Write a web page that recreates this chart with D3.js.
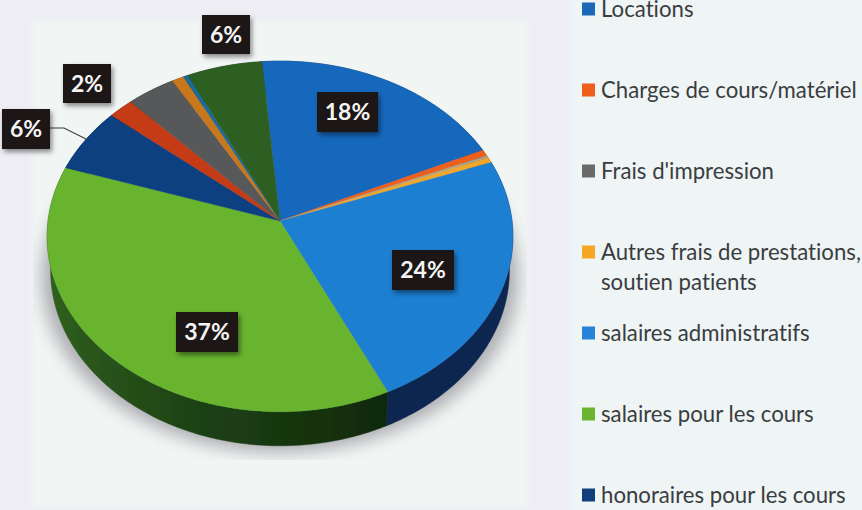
<!DOCTYPE html>
<html><head><meta charset="utf-8">
<script src="https://cdn.jsdelivr.net/npm/d3@7/dist/d3.min.js"></script>
<style>html,body{margin:0;padding:0;background:#eef3f4;overflow:hidden}svg{display:block}text{font-family:Lato,"Open Sans",sans-serif;font-variant-ligatures:none}</style>
</head><body><svg id="c" width="862" height="510"></svg>
<script>
// ---- data ----
const legendNames = ["Locations","Charges de cours/matériel","Frais d'impression",
  ["Autres frais de prestations,","soutien patients"],"salaires administratifs","salaires pour les cours","honoraires pour les cours"];
const legendColors = ["#1b68b8","#ee5f1c","#6a6a6a","#f5a623","#2684d8","#69b431","#123f7c"];
const sliceValues = [19.4,0.6,0.2,0.5,23.6,37.1,6.0,1.9,3.7,0.9,0.36,5.7];
const sliceColors = ["#1767bd","#ee5f1c","#a9a48e","#f0a72a","#1f7fd2","#67b42d","#0f3f80","#c53a17","#56585a","#c8781c","#1a6a9c","#2f5f24"];
const sideColors  = ["#123f70","#8a3a12","#666","#8a6018","#0f2650","url(#greenSide)","#0c2a55","#7a2410","#333","#7a4a10","#0f4060","#1c3a14"];
const dataLabels = [
  {slice:0, text:"18%"},{slice:4, text:"24%"},{slice:5, text:"37%"},
  {slice:6, text:"6%"},{slice:7, text:"2%"},{slice:11,text:"6%"}];
// ---- layout ----
const cx=280, cy=221, Sx=232, Sy=174, tilt=0.088, depth=34, baseScale=0.985;
const startAngle=-4.85*Math.PI/180;
const labelBoxes=[[317,92,61,40],[392,250,62,40],[176,312,62,40],[2,109,48,40],[63,64,48,39],[202,15,48,39]];
const svg=d3.select("#c");
const defs=svg.append("defs");
defs.append("filter").attr("id","soft").append("feGaussianBlur").attr("stdDeviation",0.6);
defs.append("filter").attr("id","bg").append("feGaussianBlur").attr("stdDeviation",3);
const blur=defs.append("filter").attr("id","dropPie").attr("x","-20%").attr("y","-20%").attr("width","140%").attr("height","140%");
blur.append("feGaussianBlur").attr("stdDeviation",8);
const sh=defs.append("filter").attr("id","shadow").attr("x","-30%").attr("y","-30%").attr("width","170%").attr("height","170%");
sh.append("feDropShadow").attr("dx",2).attr("dy",3).attr("stdDeviation",2.5).attr("flood-color","#000").attr("flood-opacity",0.45);
const grad=defs.append("linearGradient").attr("id","greenSide").attr("gradientUnits","userSpaceOnUse")
  .attr("x1",48).attr("x2",388).attr("y1",0).attr("y2",0);
[[0,"#2f6020"],[0.35,"#204616"],[1,"#10280c"]].forEach(([o,c])=>grad.append("stop").attr("offset",o).attr("stop-color",c));
defs.append("clipPath").attr("id","panelClip").append("rect").attr("x",33).attr("y",20).attr("width",494).attr("height",440);
// scanned-paper background
const bg=svg.append("g").attr("filter","url(#bg)");
bg.append("rect").attr("x",-10).attr("y",-10).attr("width",880).attr("height",530).attr("fill","#eeedf4");
bg.append("rect").attr("x",570).attr("y",-10).attr("width",300).attr("height",530).attr("fill","#eff4f5");
bg.append("rect").attr("x",32).attr("y",20).attr("width",496).attr("height",487).attr("fill","#f1f5f3");
const project=(a,f=1,d=0,k=1)=>{const x=f*Math.sin(a),y=-f*Math.cos(a),w=1-tilt*y;
  return [cx+k*Sx*x/w, cy+Sy*y/w+d];};
const pie=d3.pie().sort(null).startAngle(startAngle).endAngle(startAngle+2*Math.PI);
const arcs=pie(sliceValues);
const line=d3.line();
const rim=(s,d=0,k=1)=>{const n=Math.max(2,Math.ceil((s.endAngle-s.startAngle)*90));
  return d3.range(n+1).map(i=>project(s.startAngle+(s.endAngle-s.startAngle)*i/n,1,d,k));};
// cast shadow
svg.append("g").attr("clip-path","url(#panelClip)").append("path")
  .attr("fill","#6f6c78").attr("opacity",0.5).attr("filter","url(#dropPie)")
  .attr("d",line(arcs.flatMap(s=>rim(s,depth+7,1.025)))+"Z");
const art=svg.append("g").attr("filter","url(#soft)");
art.selectAll("path.side").data(arcs).join("path").attr("class","side")
  .attr("fill",(d,i)=>sideColors[i]).attr("stroke",(d,i)=>sideColors[i]).attr("stroke-width",0.5)
  .attr("d",d=>line(rim(d).concat(rim(d,depth,baseScale).reverse()))+"Z");
art.selectAll("path.top").data(arcs).join("path").attr("class","top")
  .attr("fill",(d,i)=>sliceColors[i]).attr("stroke",(d,i)=>sliceColors[i]).attr("stroke-width",0.3)
  .attr("d",d=>line([[cx,cy]].concat(rim(d)))+"Z");
// leader
svg.append("path").attr("d",line([[50,128],[64,128],[86,139]])).attr("fill","none").attr("stroke","#3c4044").attr("stroke-width",1.2);
// data labels
const lab=svg.selectAll("g.lab").data(dataLabels).join("g").attr("class","lab");
lab.append("rect").attr("x",(d,i)=>labelBoxes[i][0]).attr("y",(d,i)=>labelBoxes[i][1])
  .attr("width",(d,i)=>labelBoxes[i][2]).attr("height",(d,i)=>labelBoxes[i][3])
  .attr("fill","#1a1718").attr("filter","url(#shadow)");
lab.append("text").attr("x",(d,i)=>labelBoxes[i][0]+labelBoxes[i][2]/2).attr("y",(d,i)=>labelBoxes[i][1]+labelBoxes[i][3]/2)
  .attr("dy","0.36em").attr("text-anchor","middle").attr("fill","#f4f4f4").attr("font-size",23).attr("font-weight",700)
  .text(d=>d.text);
// legend
const rowY=d3.scaleLinear().domain([0,6]).range([9,495]);
const leg=svg.selectAll("g.leg").data(legendNames).join("g").attr("class","leg")
  .attr("transform",(d,i)=>`translate(0,${rowY(i)})`);
leg.append("rect").attr("x",582).attr("y",-6.5).attr("width",13).attr("height",13).attr("fill",(d,i)=>legendColors[i]);
leg.each(function(d){const t=d3.select(this).append("text").attr("x",601).attr("y",0)
    .attr("font-size",22.2).attr("fill","#3a3d40");
  [].concat(d).forEach((s,j)=>t.append("tspan").attr("x",601).attr("dy",j?"30":"0.35em").text(s));});
</script></body></html>
